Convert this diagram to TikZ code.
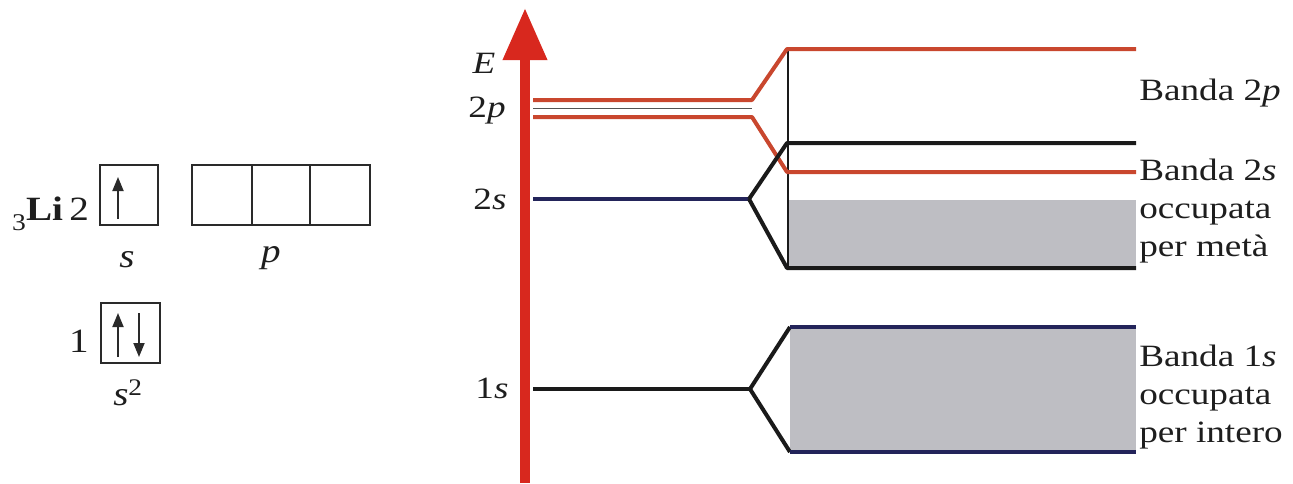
\documentclass[tikz,border=0pt]{standalone}
\usepackage{fontspec}
\setmainfont{Liberation Serif}
\usetikzlibrary{arrows.meta}
\definecolor{axred}{HTML}{D8281E}
\definecolor{lvred}{HTML}{C9472E}
\definecolor{lvblue}{HTML}{23245A}
\definecolor{lvblack}{HTML}{1A1A1A}
\definecolor{bandgray}{HTML}{BEBEC3}
\definecolor{boxline}{HTML}{2A2A2A}
\definecolor{txtc}{HTML}{1E1E1E}
\tikzset{
  rtxt/.style={font=\fontsize{31}{38}\selectfont, inner sep=0pt, xscale=1.2, text=txtc, align=left},
  ltxt/.style={font=\fontsize{34}{38}\selectfont, inner sep=0pt, xscale=1.15, text=txtc},
  lvl/.style={line width=4pt, line join=round},
  orb/.style={draw=boxline, line width=1.7pt},
  spin/.style={line width=1.8pt, draw=boxline, -{Triangle[length=14pt,width=11pt]}},
}
\begin{document}
\begin{tikzpicture}[x=1pt,y=-1pt]
\useasboundingbox (0,0) rectangle (1293,483);
% ---------- left panel: orbital boxes ----------
\node[ltxt, anchor=base west] (li) at (12,220) {{\fontsize{24}{24}\selectfont\raisebox{-10pt}{3}}\textbf{Li}\,2};
\draw[orb] (100,165) rectangle (158,225);
\coordinate (s2a) at (118,219);
\coordinate (s2b) at (118,177);
\draw[spin] (s2a) -- (s2b);
\draw[orb] (192,165) rectangle (370,225);
\draw[orb] (252,165) -- (252,225);
\draw[orb] (310,165) -- (310,225);
\node[ltxt, anchor=base] (slab) at (127,267) {\textit{s}};
\node[ltxt, anchor=base] (plab) at (271,262) {\textit{p}};
\node[ltxt, anchor=base east] (one) at (89,352) {1};
\draw[orb] (101,303) rectangle (160,363);
\coordinate (u1) at (118,357);
\coordinate (u2) at (118,313);
\coordinate (d1) at (139,313);
\coordinate (d2) at (139,357);
\draw[spin] (u1) -- (u2);
\draw[spin] (d1) -- (d2);
\node[ltxt, anchor=base] (s2lab) at (128,405) {\textit{s}$^{\mathrm{2}}$};
% ---------- energy axis ----------
\coordinate (axb) at (525,483);
\coordinate (axt) at (525,8);
\draw[axred, line width=10pt, -{Triangle[length=52pt,width=42pt]}] (axb) -- (axt);
\node[rtxt, anchor=base] (E) at (484,73) {\textit{E}};
\node[rtxt, anchor=base] (l2p) at (487,117) {2\textit{p}};
\node[rtxt, anchor=base] (l2s) at (490,209) {2\textit{s}};
\node[rtxt, anchor=base] (l1s) at (492,398) {1\textit{s}};
% ---------- bands ----------
\fill[bandgray] (788,200) rectangle (1136,268);
\fill[bandgray] (790,327) rectangle (1136,452);
\draw[line width=1.3pt, lvblack] (788,49) -- (788,268);
% 2p levels
\draw[lvl, lvred] (533,100) -- (752,100) -- (787,49) -- (1136,49);
\draw[line width=1.8pt, lvblack!75] (533,108.5) -- (752,108.5);
\draw[lvl, lvred] (533,117) -- (752,117) -- (787,172) -- (1136,172);
% 2s levels
\draw[lvl, lvblue] (533,199) -- (749,199);
\draw[lvl, lvblack] (749,199) -- (787,143) -- (1136,143);
\draw[lvl, lvblack] (749,199) -- (787,268) -- (1136,268);
% 1s levels
\draw[lvl, lvblack] (533,389) -- (750,389);
\draw[lvl, lvblack] (750,389) -- (790,327);
\draw[lvl, lvblue] (790,327) -- (1136,327);
\draw[lvl, lvblack] (750,389) -- (790,452);
\draw[lvl, lvblue] (790,452) -- (1136,452);
% ---------- right labels ----------
\node[rtxt, anchor=north west] (b2p) at (1139,79) {Banda 2\textit{p}};
\node[rtxt, anchor=north west] (b2s) at (1139,159) {Banda 2\textit{s}\\occupata\\per metà};
\node[rtxt, anchor=north west] (b1s) at (1139,345) {Banda 1\textit{s}\\occupata\\per intero};
\end{tikzpicture}
\end{document}
